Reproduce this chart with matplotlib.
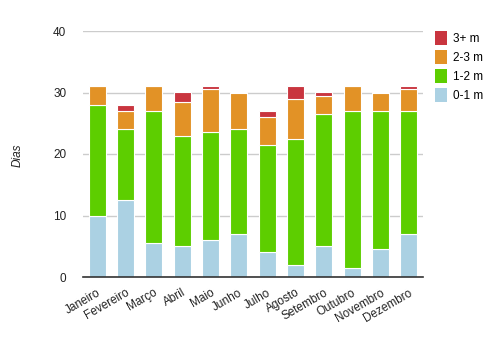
import matplotlib
matplotlib.use("Agg")
import matplotlib.pyplot as plt
import numpy as np

months = ["Janeiro", "Fevereiro", "Março", "Abril", "Maio", "Junho", "Julho",
          "Agosto", "Setembro", "Outubro", "Novembro", "Dezembro"]
s01 = [10, 12.5, 5.5, 5, 6, 7, 4, 2, 5, 1.5, 4.5, 7]
s12 = [18, 11.5, 21.5, 18, 17.5, 17, 17.5, 20.5, 21.5, 25.5, 22.5, 20]
s23 = [3, 3, 4, 5.5, 7, 6, 4.5, 6.5, 3, 4, 3, 3.5]
s3p = [0, 1, 0, 1.5, 0.5, 0, 1, 2, 0.5, 0, 0, 0.5]
series_names = ["0-1 m", "1-2 m", "2-3 m", "3+ m"]
colors = ["#abd1e3", "#5dce00", "#e29226", "#c9353f"]

plt.rcParams['font.family'] = ['Liberation Sans', 'DejaVu Sans']
fig = plt.figure(figsize=(5.03, 3.37), dpi=100)
ax = fig.add_axes([83/503, 1-277/337, 340/503, 246/337])

x = np.arange(len(months))
bottom = np.zeros(len(months))
handles = []
for vals, name, c in zip([s01, s12, s23, s3p], series_names, colors):
    v = np.array(vals, dtype=float)
    b = ax.bar(x, v, bottom=bottom, width=0.61, color=c, edgecolor='white',
               linewidth=0.8, label=name, zorder=3)
    handles.append(b)
    bottom += v

ax.set_xlim(-0.5, len(months) - 0.5)
ax.set_ylim(0, 40)
ax.set_yticks([0, 10, 20, 30, 40])
ax.grid(axis='y', color='#cccccc', linewidth=1, zorder=0)
for sp in ['top', 'right', 'left']:
    ax.spines[sp].set_visible(False)
ax.spines['bottom'].set_color('#333333')
ax.spines['bottom'].set_linewidth(1.2)
ax.spines['bottom'].set_zorder(4)
ax.tick_params(axis='both', length=0, labelsize=8.5, colors='#222222')
ax.tick_params(axis='y', pad=12)
ax.set_xticks(x)
ax.set_xticklabels(months, rotation=30, ha='right', rotation_mode='anchor')
ax.tick_params(axis='x', pad=7)
fig.text(18/503, 1-155/337, "Dias", rotation=90, fontstyle='italic', fontsize=8.5,
         color='#222222', ha='center', va='center')

from matplotlib.patches import Patch
leg_handles = [Patch(facecolor=c, edgecolor='none') for c in colors[::-1]]
leg = fig.legend(leg_handles, series_names[::-1], loc='upper left',
                 bbox_to_anchor=(435/503, 1-31/337), frameon=False,
                 borderpad=0, borderaxespad=0,
                 fontsize=8.5, handlelength=1.05, handleheight=1.4,
                 handletextpad=0.45, labelspacing=0.45)

fig.savefig("out.png", dpi=100)
